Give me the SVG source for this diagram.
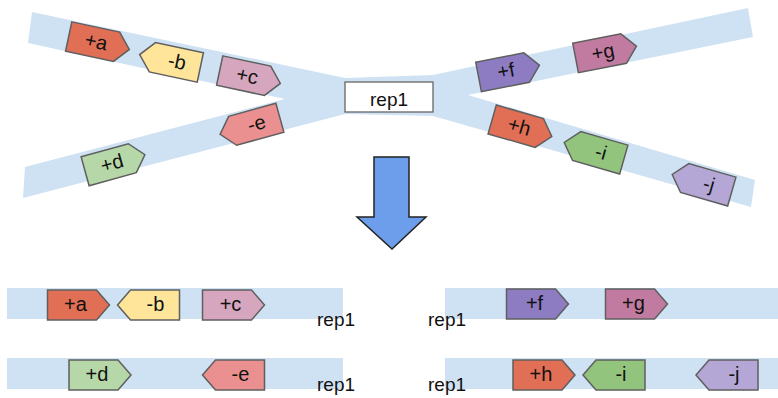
<svg xmlns="http://www.w3.org/2000/svg" width="778" height="398" viewBox="0 0 778 398">
<style>
.band{fill:#cfe2f3}
.g{stroke:#5f5f5f;stroke-width:1.5;stroke-linejoin:miter}
.t{font-family:"Liberation Sans",Arial,sans-serif;font-size:20px;fill:#111;text-anchor:middle}
.r{font-family:"Liberation Sans",Arial,sans-serif;font-size:19px;fill:#111}
</style>
<defs>
<path id="gr" d="M-31,-15 H18 L31,0 L18,15 H-31 Z"/>
<path id="gl" d="M31,-15 H-18 L-31,0 L-18,15 H31 Z"/>
</defs>
<rect width="778" height="398" fill="#fff"/>
<g id="bands">
<polygon class="band" points="32,12 345,78 433,75 748,8 753,37 468,95 755,180 751,207 433,116 345,114 23,198 25,167 285,99 28,43"/>
<rect class="band" x="7" y="288" width="336" height="31"/>
<rect class="band" x="445" y="288" width="333" height="31"/>
<rect class="band" x="7" y="358" width="336" height="31"/>
<rect class="band" x="445" y="358" width="333" height="31"/>
</g>
<g id="rep1-top">
<rect x="345" y="82" width="88" height="30" fill="#fff" stroke="#666" stroke-width="1.3"/>
<text class="r" x="389" y="106" text-anchor="middle">rep1</text>
</g>
<g id="top-a" transform="translate(99,43) rotate(12)"><use href="#gr" class="g" fill="#e06f55"/><text class="t" x="-3" y="6">+a</text></g>
<g id="top-b" transform="translate(170,61) rotate(12)"><use href="#gl" class="g" fill="#ffe599"/><text class="t" x="7" y="6">-b</text></g>
<g id="top-c" transform="translate(250,77) rotate(12)"><use href="#gr" class="g" fill="#d5a6bd"/><text class="t" x="-3" y="6">+c</text></g>
<g id="top-e" transform="translate(250,126) rotate(-15.5)"><use href="#gl" class="g" fill="#ea9090"/><text class="t" x="7" y="6">-e</text></g>
<g id="top-d" transform="translate(115,163) rotate(-15.5)"><use href="#gr" class="g" fill="#b6d7a8"/><text class="t" x="-3" y="6">+d</text></g>
<g id="top-f" transform="translate(509,71) rotate(-11)"><use href="#gr" class="g" fill="#8e7cc3"/><text class="t" x="-3" y="6">+f</text></g>
<g id="top-g" transform="translate(606,52) rotate(-11)"><use href="#gr" class="g" fill="#c27ba0"/><text class="t" x="-3" y="6">+g</text></g>
<g id="top-h" transform="translate(522,128) rotate(16)"><use href="#gr" class="g" fill="#e06f55"/><text class="t" x="-3" y="6">+h</text></g>
<g id="top-i" transform="translate(594,151) rotate(16)"><use href="#gl" class="g" fill="#93c47d"/><text class="t" x="7" y="6">-i</text></g>
<g id="top-j" transform="translate(702,183) rotate(16)"><use href="#gl" class="g" fill="#b4a7d6"/><text class="t" x="7" y="6">-j</text></g>
<g id="connectors">
<path d="M374,157 H409 V217 H426 L392,249 L357,217 H374 Z" fill="#6d9eeb" stroke="#222" stroke-width="1.5" stroke-linejoin="miter"/>
</g>
<g id="bot-a" transform="translate(78.5,305)"><use href="#gr" class="g" fill="#e06f55"/><text class="t" x="-3" y="6">+a</text></g>
<g id="bot-b" transform="translate(148.5,305)"><use href="#gl" class="g" fill="#ffe599"/><text class="t" x="7" y="6">-b</text></g>
<g id="bot-c" transform="translate(233.5,305)"><use href="#gr" class="g" fill="#d5a6bd"/><text class="t" x="-3" y="6">+c</text></g>
<g id="bot-d" transform="translate(100,375)"><use href="#gr" class="g" fill="#b6d7a8"/><text class="t" x="-3" y="6">+d</text></g>
<g id="bot-e" transform="translate(233.5,375)"><use href="#gl" class="g" fill="#ea9090"/><text class="t" x="7" y="6">-e</text></g>
<g id="bot-f" transform="translate(537.5,304)"><use href="#gr" class="g" fill="#8e7cc3"/><text class="t" x="-3" y="6">+f</text></g>
<g id="bot-g" transform="translate(636.5,304)"><use href="#gr" class="g" fill="#c27ba0"/><text class="t" x="-3" y="6">+g</text></g>
<g id="bot-h" transform="translate(544,375)"><use href="#gr" class="g" fill="#e06f55"/><text class="t" x="-3" y="6">+h</text></g>
<g id="bot-i" transform="translate(614,375)"><use href="#gl" class="g" fill="#93c47d"/><text class="t" x="7" y="6">-i</text></g>
<g id="bot-j" transform="translate(727,375)"><use href="#gl" class="g" fill="#b4a7d6"/><text class="t" x="7" y="6">-j</text></g>
<g id="labels">
<text class="r" x="317" y="326">rep1</text>
<text class="r" x="428" y="326">rep1</text>
<text class="r" x="317" y="391">rep1</text>
<text class="r" x="428" y="391">rep1</text>
</g>
</svg>
